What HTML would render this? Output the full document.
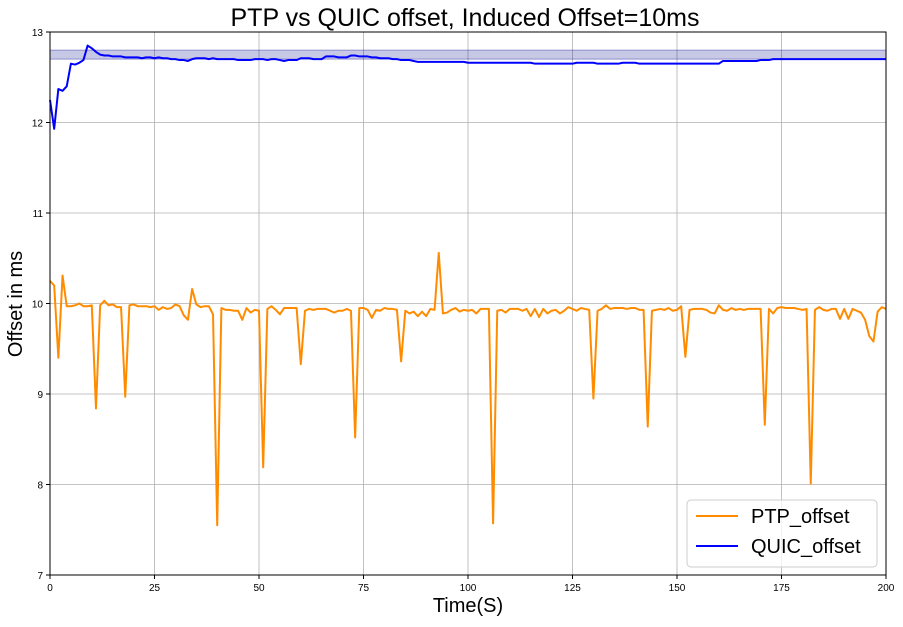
<!DOCTYPE html>
<html><head><meta charset="utf-8"><style>
body{margin:0;background:#fff;font-family:"Liberation Sans",sans-serif}
</style></head><body>
<svg id="chart" width="903" height="622" xmlns="http://www.w3.org/2000/svg" font-family="Liberation Sans, sans-serif">
<text x="465" y="26" font-size="25" text-anchor="middle">PTP vs QUIC offset, Induced Offset=10ms</text>
<g id="grid"></g><g id="marks"></g><g id="axes"></g>
<text x="468" y="612" font-size="20" text-anchor="middle">Time(S)</text>
<text transform="translate(22,304) rotate(-90)" font-size="20" text-anchor="middle">Offset in ms</text>
<g>
<rect x="687" y="500" width="190" height="67" rx="4" fill="#fff" fill-opacity="0.8" stroke="#ccc"/>
<line x1="696" y1="516" x2="738" y2="516" stroke="#ff8c00" stroke-width="2"/>
<text x="751" y="523" font-size="20">PTP_offset</text>
<line x1="696" y1="546" x2="738" y2="546" stroke="#0000ff" stroke-width="2"/>
<text x="751" y="553" font-size="20">QUIC_offset</text>
</g>
</svg>
<script>
const xTicks=[0,25,50,75,100,125,150,175,200];
const yTicks=[7,8,9,10,11,12,13];
const bandRange=[12.70,12.80];
const ptp=[10.25,10.2,9.4,10.31,9.97,9.97,9.98,10.0,9.97,9.97,9.98,8.84,9.98,10.03,9.98,9.99,9.96,9.96,8.97,9.98,
9.99,9.97,9.97,9.97,9.96,9.97,9.93,9.96,9.94,9.95,9.99,9.97,9.87,9.82,10.16,9.99,9.96,9.97,9.97,9.88,
7.55,9.95,9.93,9.93,9.92,9.92,9.82,9.95,9.9,9.93,9.92,8.19,9.94,9.97,9.93,9.88,9.95,9.95,9.95,9.95,
9.33,9.92,9.94,9.93,9.94,9.94,9.94,9.92,9.9,9.92,9.92,9.94,9.92,8.52,9.95,9.95,9.93,9.84,9.93,9.92,
9.95,9.94,9.94,9.93,9.36,9.92,9.89,9.91,9.86,9.91,9.86,9.94,9.93,10.56,9.89,9.9,9.93,9.95,9.91,9.93,
9.92,9.93,9.89,9.94,9.94,9.94,7.57,9.92,9.93,9.9,9.94,9.94,9.94,9.92,9.94,9.86,9.94,9.85,9.94,9.89,
9.92,9.93,9.89,9.92,9.96,9.94,9.92,9.95,9.94,9.93,8.95,9.92,9.94,9.98,9.94,9.95,9.95,9.95,9.94,9.95,
9.95,9.93,9.93,8.64,9.92,9.93,9.94,9.93,9.95,9.92,9.93,9.97,9.41,9.93,9.94,9.94,9.94,9.93,9.9,9.89,
9.98,9.93,9.92,9.95,9.93,9.94,9.93,9.94,9.94,9.94,9.94,8.66,9.94,9.89,9.95,9.96,9.95,9.95,9.95,9.94,
9.93,9.94,8.01,9.93,9.96,9.93,9.92,9.94,9.94,9.83,9.94,9.83,9.94,9.92,9.9,9.82,9.64,9.58,9.91,9.96,9.94];
const quic=[12.25,11.93,12.37,12.35,12.4,12.65,12.64,12.66,12.69,12.85,12.82,12.78,12.75,
12.74,12.74,12.73,12.73,12.73,12.72,12.72,12.72,12.72,12.71,12.72,12.72,12.71,12.72,12.71,12.71,12.7,12.7,
12.69,12.69,12.68,12.7,12.71,12.71,12.71,12.7,12.71,12.7,12.7,12.7,12.7,12.7,12.69,12.69,12.69,12.69,12.7,12.7,12.7,12.69,12.7,12.7,12.69,12.68,12.69,12.69,12.69,12.71,
12.71,12.71,12.7,12.7,12.7,12.73,12.73,12.73,12.72,12.72,12.72,12.74,12.74,12.73,12.73,12.73,12.72,12.72,12.71,12.71,12.71,12.7,12.7,12.69,12.69,12.69,12.68,12.67,12.67,12.67,
12.67,12.67,12.67,12.67,12.67,12.67,12.67,12.67,12.67,12.66,12.66,12.66,12.66,12.66,12.66,12.66,12.66,12.66,12.66,12.66,
12.66,12.66,12.66,12.66,12.66,12.65,12.65,12.65,12.65,12.65,12.65,12.65,12.65,12.65,12.65,12.66,12.66,12.66,12.66,12.66,
12.65,12.65,12.65,12.65,12.65,12.65,12.66,12.66,12.66,12.66,12.65,12.65,12.65,12.65,12.65,12.65,12.65,12.65,12.65,12.65,
12.65,12.65,12.65,12.65,12.65,12.65,12.65,12.65,12.65,12.65,
12.68,12.68,12.68,12.68,12.68,12.68,12.68,12.68,12.68,12.69,12.69,12.69,12.7,12.7,12.7,12.7,12.7,12.7,12.7,12.7,
12.7,12.7,12.7,12.7,12.7,12.7,12.7,12.7,12.7,12.7,12.7,12.7,12.7,12.7,12.7,12.7,12.7,12.7,12.7,12.7];
const L=50,R=886,T=32,B=575;
const xS=v=>L+(v-0)/200*(R-L);
const yS=v=>B-(v-7)/6*(B-T);
const NS='http://www.w3.org/2000/svg';
function mk(tag,attrs,parent){const e=document.createElementNS(NS,tag);for(const k in attrs)e.setAttribute(k,attrs[k]);parent.appendChild(e);return e;}
const grid=document.getElementById('grid'),marks=document.getElementById('marks'),axes=document.getElementById('axes');
xTicks.forEach(t=>{
 const g=mk('line',{x1:xS(t),x2:xS(t),y1:T,y2:B,stroke:'#b0b0b0','stroke-width':0.8},grid);
 
 
 mk('line',{x1:xS(t),x2:xS(t),y1:B,y2:B+4,stroke:'#000'},axes);
 const tx=mk('text',{x:xS(t),y:B+16,'font-size':10,'text-anchor':'middle'},axes);tx.textContent=t;
 
 
});
yTicks.forEach(t=>{
 const g=mk('line',{x1:L,x2:R,y1:yS(t),y2:yS(t),stroke:'#b0b0b0','stroke-width':0.8},grid);
 
 
 mk('line',{x1:L-4,x2:L,y1:yS(t),y2:yS(t),stroke:'#000'},axes);
 const tx=mk('text',{x:L-7,y:yS(t)+4,'font-size':10,'text-anchor':'end'},axes);tx.textContent=t;
 
 
});
const band=mk('rect',{x:L,y:yS(bandRange[1]),width:R-L,height:yS(bandRange[0])-yS(bandRange[1]),fill:'rgba(0,0,140,0.22)',stroke:'rgba(0,0,140,0.35)'},marks);


function line(arr,color,name){
 const d=arr.map((v,i)=>(i?'L':'M')+xS(i).toFixed(2)+','+yS(v).toFixed(2)).join('');
 const p=mk('path',{d:d,fill:'none',stroke:color,'stroke-width':2,'stroke-linejoin':'round'},marks);
 
 
}
line(ptp,'#ff8c00','ptp-offset-line');
line(quic,'#0000ff','quic-offset-line');
const fr=mk('rect',{x:L,y:T,width:R-L,height:B-T,fill:'none',stroke:'#000','stroke-width':1},axes);


</script>
</body></html>
